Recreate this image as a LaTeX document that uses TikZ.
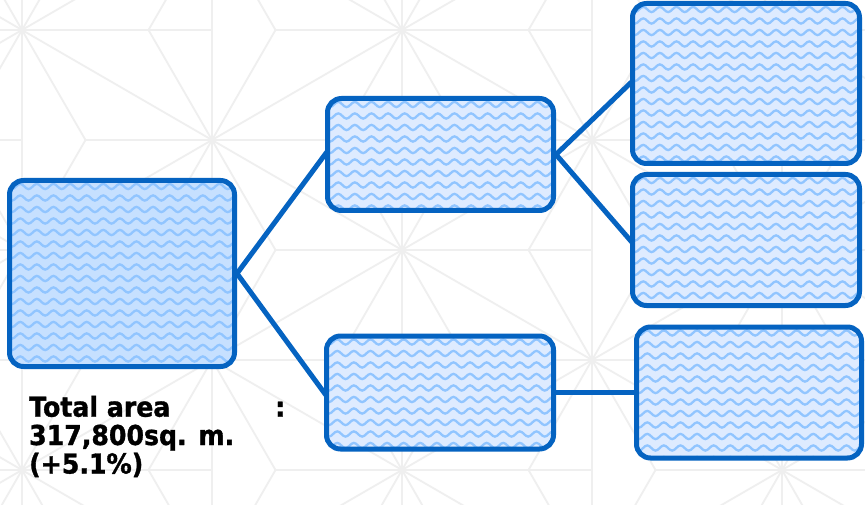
\documentclass[tikz,border=0pt]{standalone}
\usepackage{fontspec}
\newfontfamily\lblfont[FakeStretch=0.92, BoldFeatures={FakeBold=1.2}]{DejaVu Sans}
\definecolor{bord}{RGB}{5,99,193}
\definecolor{lfill}{RGB}{222,235,255}
\definecolor{dfill}{RGB}{198,224,255}
\definecolor{wavec}{RGB}{145,197,255}
\definecolor{bgline}{RGB}{239,239,239}
\tikzset{
  bgl/.style={draw=bgline, line width=1.8pt},
  wave/.style={draw=wavec, line width=2.3pt, sharp corners},
  box/.style={draw=bord, line width=5pt, rounded corners=14pt, fill=lfill,
    inner sep=0pt, rectangle,
    path picture={
      \foreach \k in {0,...,16} {
        \draw[wave] ([xshift=-10pt,yshift={-6pt-\k*11.5pt}]path picture bounding box.north west)
          \foreach \n in {1,...,16} {
            sin ++(4.15pt,2.6pt) cos ++(4.15pt,-2.6pt)
            sin ++(4.15pt,-2.6pt) cos ++(4.15pt,2.6pt)
          };
      }
    }},
  conn/.style={draw=bord, line width=5pt, shorten <=-3pt, shorten >=-3pt},
  lbl/.style={anchor=base west, inner sep=0pt, text=black,
    font=\lblfont\bfseries\fontsize{27.4}{28.3}\selectfont}
}
\begin{document}
\begin{tikzpicture}[x=1pt,y=-1pt]
\useasboundingbox (0,0) rectangle (865,505);
\fill[white] (0,0) rectangle (865,505);
\begin{scope}
\clip (0,0) rectangle (865,505);
\foreach \i in {-1,...,5} {
  \foreach \m in {-4,...,3} {
    \pgfmathsetmacro\sx{22+190*\i}
    \pgfmathsetmacro\sy{30+110*(\i+2*\m)}
    \draw[bgl] (\sx,\sy) -- ++(190,110)
               (\sx,\sy) -- ++(190,-110)
               (\sx,\sy) -- ++(0,220)
               (\sx-127,\sy) -- (\sx+190,\sy)
               (\sx-63.5,\sy-110) -- (\sx+63.5,\sy+110)
               (\sx-63.5,\sy+110) -- (\sx+63.5,\sy-110);
  }
}
\end{scope}
\node[box, fill=dfill, minimum width=225pt, minimum height=186pt] (A) at (122,273.5) {};
\node[box, minimum width=226pt, minimum height=112pt] (B) at (440.5,154.5) {};
\node[box, minimum width=227pt, minimum height=113pt] (C) at (440,392.5) {};
\node[box, minimum width=227pt, minimum height=160pt] (D) at (746,83.5) {};
\node[box, minimum width=227pt, minimum height=131pt] (E) at (746,240) {};
\node[box, minimum width=225pt, minimum height=131pt] (F) at (749,392.5) {};
\draw[conn] (A.east) -- (B.west);
\draw[conn] (A.east) -- (C.west);
\draw[conn] (B.east) -- (D.west);
\draw[conn] (B.east) -- (E.west);
\draw[conn] (C.east) -- (F.west);
\node[lbl] (l1) at (29,416.7) {\makebox[256pt][l]{Total area\hfill:}};
\node[lbl] (l2) at (29,445) {317,800sq. m.};
\node[lbl] (l3) at (29,473.5) {(+5.1\%)};
\end{tikzpicture}
\end{document}
